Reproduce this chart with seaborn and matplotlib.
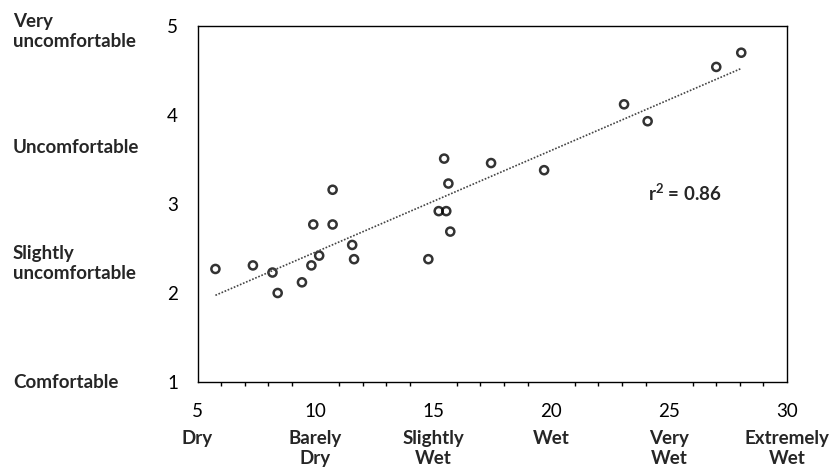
import numpy as np
import matplotlib
matplotlib.use('Agg')
import matplotlib.pyplot as plt
import matplotlib.transforms as mtransforms
from matplotlib.ticker import MultipleLocator
import seaborn as sns

# wetness score (x) vs discomfort score (y)
wetness = [5.76, 7.35, 8.18, 8.40, 9.43, 9.83, 10.16, 9.91, 10.73, 10.73,
           11.56, 11.64, 14.79, 15.46, 15.64, 15.23, 15.55, 15.72, 17.45,
           19.70, 23.09, 24.09, 27.00, 28.06]
discomfort = [2.27, 2.31, 2.23, 2.00, 2.12, 2.31, 2.42, 2.77, 2.77, 3.16,
              2.54, 2.38, 2.38, 3.51, 3.23, 2.92, 2.92, 2.69, 3.46,
              3.38, 4.12, 3.93, 4.54, 4.70]

x_ticks = [5, 10, 15, 20, 25, 30]
x_cats = ['Dry', 'Barely\nDry', 'Slightly\nWet', 'Wet', 'Very\nWet', 'Extremely\nWet']
y_ticks = [1, 2, 3, 4, 5]
y_cats = ['Very\nuncomfortable', 'Uncomfortable', 'Slightly\nuncomfortable', 'Comfortable']
y_cat_pos = [4.94, 3.63, 2.33, 1.0]
r2_label = 'r$^2$ = 0.86'

sns.set_style('white')
plt.rcParams['font.family'] = ['Lato', 'DejaVu Sans']
plt.rcParams['mathtext.fontset'] = 'custom'
plt.rcParams['mathtext.rm'] = 'Lato:bold'
plt.rcParams['mathtext.it'] = 'Lato:bold'

fig = plt.figure(figsize=(8.3, 4.7), dpi=100)
ax = fig.add_axes([197.5 / 830, 1 - 382 / 470, (787 - 197.5) / 830, (382 - 26) / 470])

sns.regplot(x=wetness, y=discomfort, ax=ax, ci=None,
            scatter_kws=dict(s=34, facecolors='none', edgecolors='black', linewidths=1.8),
            line_kws=dict(color='#444444', linestyle=(0, (1, 1)), linewidth=1.2))

ax.set_xlim(5, 30)
ax.set_ylim(1, 5)
ax.set_xticks(x_ticks)
ax.set_yticks(y_ticks)
ax.xaxis.set_minor_locator(MultipleLocator(1))
ax.tick_params(axis='both', which='major', direction='out', length=5, width=1,
               color='black', labelsize=13.5, labelcolor='black')
ax.tick_params(axis='x', which='major', pad=10)
ax.tick_params(axis='y', which='major', pad=9)
ax.tick_params(axis='x', which='minor', direction='out', length=3, width=1,
               color='black', bottom=True)
for sp in ax.spines.values():
    sp.set_color('black')
    sp.set_linewidth(1)

# category labels along the axes
ytrans = mtransforms.blended_transform_factory(fig.transFigure, ax.transData)
for lab, pos in zip(y_cats, y_cat_pos):
    ax.text(13 / 830, pos, lab, transform=ytrans, ha='left', va='center',
            fontsize=13.5, fontweight='bold', linespacing=1.2)

xtrans = mtransforms.blended_transform_factory(ax.transData, fig.transFigure)
for lab, pos in zip(x_cats, x_ticks):
    ax.text(pos, 1 - 430 / 470, lab, transform=xtrans, ha='center', va='top',
            fontsize=13.5, fontweight='bold', linespacing=1.2)

ax.text(24.1, 3.12, r2_label, ha='left', va='center', fontsize=13.5, fontweight='bold')

fig.savefig('out.png', dpi=100)
